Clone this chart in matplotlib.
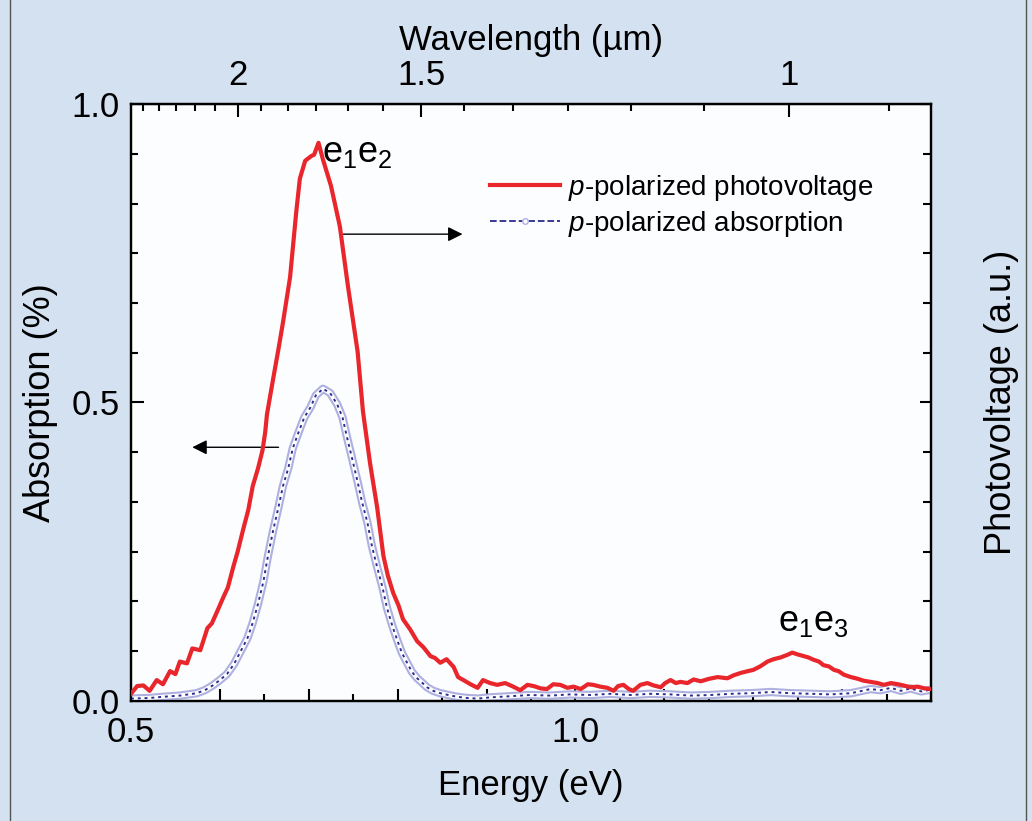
import numpy as np
import matplotlib
matplotlib.use("Agg")
import matplotlib.pyplot as plt
from matplotlib.lines import Line2D
from matplotlib.ticker import MultipleLocator, AutoMinorLocator, FixedLocator, FuncFormatter

plt.rcParams['font.family'] = ['Liberation Sans', 'DejaVu Sans']
plt.rcParams['mathtext.fontset'] = 'custom'
plt.rcParams['mathtext.rm'] = 'Liberation Sans'
plt.rcParams['mathtext.it'] = 'Liberation Sans:italic'

# photovoltage (a.u., scaled to left axis)
energy_pv = [0.500, 0.507, 0.514, 0.521, 0.529, 0.536, 0.544, 0.550, 0.555, 0.563,
             0.569, 0.578, 0.586, 0.591, 0.597, 0.604, 0.609, 0.615, 0.620, 0.626,
             0.632, 0.637, 0.643, 0.648, 0.651, 0.653, 0.660, 0.666, 0.671, 0.679,
             0.686, 0.690, 0.696, 0.703, 0.706, 0.711, 0.716, 0.725, 0.735, 0.744,
             0.755, 0.761, 0.769, 0.777, 0.784, 0.789, 0.795, 0.801, 0.806, 0.814,
             0.822, 0.829, 0.837, 0.842, 0.848, 0.855, 0.863, 0.868, 0.874, 0.882,
             0.890, 0.896, 0.904, 0.912, 0.921, 0.930, 0.938, 0.946, 0.953, 0.961,
             0.968, 0.975, 0.983, 0.991, 0.998, 1.006, 1.014, 1.020, 1.028, 1.036,
             1.043, 1.048, 1.054, 1.060, 1.065, 1.073, 1.081, 1.088, 1.096, 1.101,
             1.107, 1.113, 1.118, 1.126, 1.133, 1.141, 1.150, 1.160, 1.171, 1.178,
             1.186, 1.194, 1.200, 1.208, 1.216, 1.223, 1.231, 1.238, 1.244, 1.250,
             1.257, 1.262, 1.268, 1.274, 1.279, 1.285, 1.291, 1.296, 1.302, 1.310,
             1.318, 1.324, 1.332, 1.340, 1.347, 1.355, 1.363, 1.369, 1.377, 1.385,
             1.393, 1.400]
photovoltage = [0.012, 0.025, 0.026, 0.017, 0.035, 0.028, 0.050, 0.045, 0.066, 0.063,
                0.088, 0.085, 0.122, 0.130, 0.150, 0.174, 0.190, 0.224, 0.250, 0.286,
                0.320, 0.360, 0.390, 0.420, 0.450, 0.480, 0.540, 0.590, 0.634, 0.710,
                0.820, 0.875, 0.905, 0.913, 0.915, 0.935, 0.907, 0.863, 0.795, 0.696,
                0.585, 0.485, 0.398, 0.324, 0.243, 0.210, 0.181, 0.160, 0.137, 0.120,
                0.100, 0.090, 0.075, 0.072, 0.064, 0.070, 0.057, 0.040, 0.035, 0.028,
                0.022, 0.035, 0.030, 0.027, 0.030, 0.024, 0.018, 0.027, 0.025, 0.021,
                0.020, 0.028, 0.027, 0.022, 0.024, 0.020, 0.028, 0.027, 0.024, 0.022,
                0.017, 0.025, 0.027, 0.020, 0.017, 0.027, 0.030, 0.026, 0.023, 0.030,
                0.035, 0.030, 0.032, 0.030, 0.036, 0.033, 0.037, 0.040, 0.038, 0.043,
                0.047, 0.050, 0.052, 0.058, 0.066, 0.070, 0.073, 0.077, 0.081, 0.078,
                0.075, 0.073, 0.069, 0.066, 0.060, 0.058, 0.052, 0.050, 0.044, 0.040,
                0.037, 0.034, 0.032, 0.030, 0.027, 0.030, 0.028, 0.026, 0.023, 0.024,
                0.021, 0.020]

# absorption (%)
energy_abs = [0.500, 0.521, 0.536, 0.555, 0.574, 0.583, 0.592, 0.600, 0.608, 0.616,
              0.623, 0.631, 0.637, 0.643, 0.649, 0.654, 0.660, 0.666, 0.671, 0.677,
              0.682, 0.688, 0.695, 0.702, 0.708, 0.716, 0.724, 0.732, 0.738, 0.743,
              0.749, 0.755, 0.760, 0.766, 0.771, 0.777, 0.783, 0.788, 0.794, 0.800,
              0.805, 0.811, 0.816, 0.822, 0.828, 0.833, 0.840, 0.848, 0.857, 0.867,
              0.878, 0.890, 0.904, 0.927, 0.949, 0.972, 0.994, 1.017, 1.039, 1.062,
              1.084, 1.107, 1.130, 1.152, 1.175, 1.197, 1.220, 1.242, 1.265, 1.287,
              1.310, 1.332, 1.343, 1.355, 1.366, 1.377, 1.389, 1.400]
absorption = [0.004, 0.005, 0.007, 0.009, 0.013, 0.018, 0.026, 0.035, 0.045, 0.062,
              0.082, 0.105, 0.131, 0.163, 0.200, 0.242, 0.286, 0.325, 0.360, 0.390,
              0.423, 0.448, 0.475, 0.492, 0.512, 0.523, 0.516, 0.497, 0.475, 0.442,
              0.405, 0.367, 0.333, 0.299, 0.260, 0.224, 0.190, 0.156, 0.126, 0.100,
              0.080, 0.063, 0.049, 0.038, 0.030, 0.023, 0.017, 0.013, 0.010, 0.007,
              0.005, 0.004, 0.006, 0.008, 0.010, 0.009, 0.011, 0.010, 0.012, 0.010,
              0.012, 0.011, 0.009, 0.010, 0.012, 0.013, 0.015, 0.013, 0.012, 0.011,
              0.013, 0.020, 0.018, 0.022, 0.017, 0.021, 0.016, 0.019]

wl_major = [2, 1.5, 1]
hc = 1.2398  # eV*um

bg = '#d3e1f1'
red = '#e8262b'
navy = '#2b2b8f'
lav = '#aeb0e0'

fig = plt.figure(figsize=(10.32, 8.21), dpi=100, facecolor=bg)
ax = fig.add_axes([0.1269, 0.1462, 0.7752, 0.7271])
ax.set_facecolor('#fcfdfe')
ax2 = ax.twinx()

# absorption: open-circle band with dashed centre
ax.plot(energy_abs, absorption, color=lav, lw=6, solid_capstyle='round', zorder=3)
ax.plot(energy_abs, absorption, color='white', lw=3, zorder=3)
ax.plot(energy_abs, absorption, color=navy, lw=1.4, ls=(0, (1.5, 2)), zorder=3)

ax2.plot(energy_pv, photovoltage, color=red, lw=3, zorder=4)

ax.set_xlim(0.5, 1.4)
ax.set_ylim(0, 1.0)
ax2.set_ylim(0, 1.0)

fs = 25
ax.xaxis.set_major_locator(MultipleLocator(0.1))
ax.xaxis.set_minor_locator(MultipleLocator(0.05))
ax.xaxis.set_major_formatter(FuncFormatter(
    lambda v, p: f"{v:.1f}" if abs(v * 2 - round(v * 2)) < 1e-6 else ""))
ax.yaxis.set_major_locator(MultipleLocator(0.5))
ax.yaxis.set_minor_locator(AutoMinorLocator(6))
ax.yaxis.set_major_formatter(FuncFormatter(lambda v, p: f"{v:.1f}"))
ax2.yaxis.set_major_locator(MultipleLocator(0.5))
ax2.yaxis.set_minor_locator(AutoMinorLocator(6))
ax2.tick_params(axis='y', which='both', labelright=False, direction='in', width=1.5)
ax2.tick_params(axis='y', which='major', length=8)
ax2.tick_params(axis='y', which='minor', length=6)

ax.tick_params(axis='both', which='both', direction='in', width=1.5, labelsize=fs)
ax.tick_params(axis='both', which='major', length=9)
ax.tick_params(axis='both', which='minor', length=5)
ax.tick_params(axis='x', which='major', pad=11)
ax.tick_params(axis='y', which='major', pad=8)

for a in (ax, ax2):
    for s in a.spines.values():
        s.set_linewidth(1.6)

# top wavelength axis
def e2wl(x):
    x = np.asarray(x, dtype=float)
    with np.errstate(divide='ignore', invalid='ignore'):
        return np.where(x > 0, hc / np.where(x > 0, x, 1), np.inf)

top = ax.secondary_xaxis('top', functions=(e2wl, e2wl))
top.set_xticks(wl_major)
top.set_xticklabels(['2', '1.5', '1'])
top.xaxis.set_minor_locator(FixedLocator([k / 12 for k in range(10, 31) if k % 6 != 0]))
top.tick_params(axis='x', which='both', direction='in', width=1.5, labelsize=fs)
top.tick_params(axis='x', which='major', length=9, pad=9)
top.tick_params(axis='x', which='minor', length=5)
top.set_xlabel('Wavelength (µm)', fontsize=fs, labelpad=6)

ax.set_xlabel('Energy (eV)', fontsize=fs, labelpad=14)
ax.set_ylabel('Absorption (%)', fontsize=26, labelpad=10)
ax2.set_ylabel('Photovoltage (a.u.)', fontsize=26, labelpad=38)

# arrows
ax.annotate('', xy=(0.569, 0.425), xytext=(0.666, 0.425),
            arrowprops=dict(arrowstyle='-|>', color='black', lw=1.0, mutation_scale=22,
                            shrinkA=0, shrinkB=0))
ax.annotate('', xy=(0.873, 0.782), xytext=(0.739, 0.782),
            arrowprops=dict(arrowstyle='-|>', color='black', lw=1.0, mutation_scale=22,
                            shrinkA=0, shrinkB=0))

ax.text(0.715, 0.903, r'e$_1$e$_2$', fontsize=26, ha='left', va='baseline', zorder=5)
ax.text(1.228, 0.118, r'e$_1$e$_3$', fontsize=26, ha='left', va='baseline', zorder=5)

handles = [Line2D([], [], color=red, lw=3),
           Line2D([], [], color=navy, lw=1.3, ls='--', marker='o', ms=4,
                  mfc='white', mec=lav)]
ax2.legend(handles, [r'$p$-polarized photovoltage', r'$p$-polarized absorption'],
           loc='upper left', bbox_to_anchor=(0.449, 0.885), frameon=False,
           fontsize=20, handlelength=2.5, handletextpad=0.3, borderpad=0,
           borderaxespad=0, labelspacing=0.22)

# box border lines
fig.add_artist(Line2D([10 / 1032, 10 / 1032], [0, 1], color='#555555', lw=1.0))
fig.add_artist(Line2D([1026 / 1032, 1026 / 1032], [0, 1], color='#555555', lw=1.0))

fig.savefig('out.png', dpi=100, facecolor=bg)
